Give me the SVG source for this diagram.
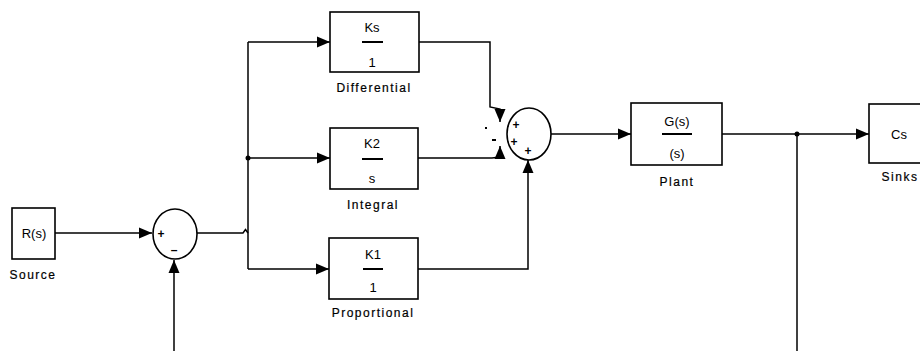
<svg xmlns="http://www.w3.org/2000/svg" width="920" height="351" viewBox="0 0 920 351">
<defs>
<style>
.box{fill:#fff;stroke:#000;stroke-width:1.6}
.ln{fill:none;stroke:#000;stroke-width:1.5}
.t{font-family:"Liberation Sans",Arial,sans-serif;font-size:13px;fill:#000;text-anchor:middle}
.lab{font-family:"Liberation Sans",Arial,sans-serif;font-size:12px;fill:#000;text-anchor:middle;letter-spacing:1.5px;stroke:#000;stroke-width:0.2}
.bar{stroke:#000;stroke-width:2}
.sg{font-family:"Liberation Sans",Arial,sans-serif;font-size:12px;font-weight:bold;fill:#000;text-anchor:middle}
</style>
<marker id="ah" markerUnits="userSpaceOnUse" markerWidth="13" markerHeight="12" viewBox="0 0 13 11" refX="13" refY="5.5" orient="auto">
<path d="M0,0 L13,5.5 L0,11 z" fill="#000"/>
</marker>
</defs>
<rect width="920" height="351" fill="#fff"/>
<g id="connectors">
<path class="ln" d="M55,233 H152" marker-end="url(#ah)"/>
<path class="ln" d="M197,233 H243 L245.5,229.5 L248,233"/>
<path class="ln" d="M248,42 V269"/>
<path class="ln" d="M248,42 H330" marker-end="url(#ah)"/>
<path class="ln" d="M248,158 H330" marker-end="url(#ah)"/>
<path class="ln" d="M248,269 H329" marker-end="url(#ah)"/>
<path class="ln" d="M419,42 H490 V107 L500,109 V122" marker-end="url(#ah)"/>
<path class="ln" d="M418,158 H492 L500,157 V146" marker-end="url(#ah)"/>
<path class="ln" d="M418,269 H528 V160" marker-end="url(#ah)"/>
<path class="ln" d="M551,134 H631" marker-end="url(#ah)"/>
<path class="ln" d="M722,134 H869" marker-end="url(#ah)"/>
<path class="ln" d="M797,134 V351"/>
<path class="ln" d="M174,351 V260" marker-end="url(#ah)"/>
<circle cx="248" cy="158" r="2.5" fill="#000"/>
<circle cx="797" cy="134" r="2.5" fill="#000"/>
</g>
<g id="source">
<rect class="box" x="12" y="208" width="43" height="51"/>
<text class="t" x="34" y="238">R(s)</text>
<text class="lab" x="33" y="279">Source</text>
</g>
<g id="sum1">
<ellipse class="box" cx="175" cy="234" rx="22" ry="25"/>
<text class="sg" x="161" y="238">+</text>
<text class="sg" x="174" y="254">–</text>
</g>
<g id="differential">
<rect class="box" x="330" y="12" width="89" height="60"/>
<text class="t" x="372" y="32">Ks</text>
<line class="bar" x1="362" y1="42" x2="383" y2="42"/>
<text class="t" x="372" y="67">1</text>
<text class="lab" x="374" y="92">Differential</text>
</g>
<g id="integral">
<rect class="box" x="330" y="128" width="88" height="61"/>
<text class="t" x="372" y="148">K2</text>
<line class="bar" x1="362" y1="159" x2="383" y2="159"/>
<text class="t" x="372" y="183">s</text>
<text class="lab" x="373" y="209">Integral</text>
</g>
<g id="proportional">
<rect class="box" x="329" y="238" width="89" height="61"/>
<text class="t" x="373" y="259">K1</text>
<line class="bar" x1="363" y1="269" x2="383" y2="269"/>
<text class="t" x="373" y="292">1</text>
<text class="lab" x="373" y="317">Proportional</text>
</g>
<g id="sum2">
<ellipse class="box" cx="529" cy="134" rx="22" ry="26"/>
<text class="sg" x="516" y="129">+</text>
<text class="sg" x="514" y="146">+</text>
<text class="sg" x="528" y="155">+</text>
<rect x="485" y="127" width="2" height="2" fill="#000"/>
<rect x="492" y="139" width="4" height="2" fill="#000"/>
</g>
<g id="plant">
<rect class="box" x="631" y="103" width="91" height="62"/>
<text class="t" x="677" y="126">G(s)</text>
<line class="bar" x1="662" y1="134" x2="692" y2="134"/>
<text class="t" x="677" y="158">(s)</text>
<text class="lab" x="677" y="186">Plant</text>
</g>
<g id="sinks">
<rect class="box" x="869" y="104" width="60" height="59"/>
<text class="t" x="899" y="139">Cs</text>
<text class="lab" x="900" y="181">Sinks</text>
</g>
</svg>
